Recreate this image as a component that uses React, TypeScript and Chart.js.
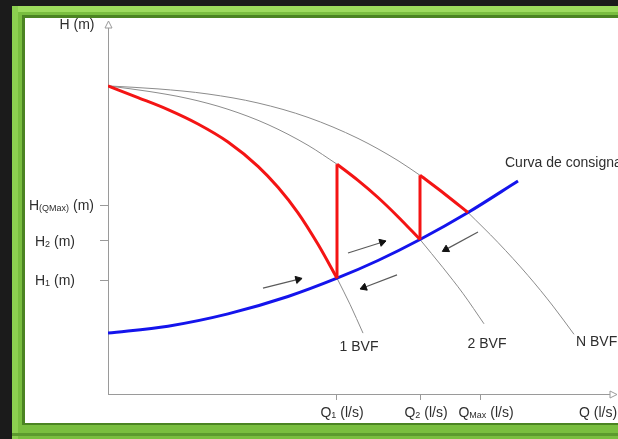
import React, { useEffect, useRef } from "react";
import { Chart, registerables } from "chart.js";

Chart.register(...registerables);

type P = [number, number];

// Q (arbitrary units) vs H (arbitrary units)
const curve1Head: P[] = [[0, 102.7], [7.5, 98.8], [15, 94.8], [22.5, 90], [30, 84], [37.5, 75.9], [42.5, 68.9], [47.5, 60.4], [52.5, 49.9], [57.25, 38.6]];
const curve1Tail: P[] = [[57.25, 38.6], [60.5, 29.9], [63.75, 20.3]];
const curve2Head: P[] = [[0, 102.7], [10, 100.9], [20, 98.5], [30, 94.9], [40, 89.8], [50, 82.9], [57.25, 76.6]];
const curve2Red: P[] = [[57.25, 76.6], [62.5, 71.2], [67.5, 65.5], [72.5, 59.1], [78, 51.5]];
const curve2Tail: P[] = [[78, 51.5], [83.75, 42.1], [88.75, 33.5], [94, 23.4]];
const curveNHead: P[] = [[0, 102.7], [12.5, 101.7], [25, 100], [37.5, 97], [50, 92.2], [62.5, 85.2], [72.5, 77.8], [78, 72.9]];
const curveNRed: P[] = [[78, 72.9], [84.25, 66.6], [90, 60.5]];
const curveNTail: P[] = [[90, 60.5], [97.5, 50.5], [105, 39.5], [111.25, 29.3], [116.5, 19.9]];
const systemCurve: P[] = [[0, 20.3], [15, 22.6], [30, 26.7], [45, 32.5], [57.25, 38.6], [67.5, 44.5], [78, 51.5], [90, 60.5], [102.5, 71]];
const jump1: P[] = [[57.25, 38.6], [57.25, 76.6]];
const jump2: P[] = [[78, 51.5], [78, 72.9]];

const arrows: P[][] = [
  [[38.75, 35.3], [47.5, 38.2]],
  [[60, 47], [68.5, 50.6]],
  [[72.25, 39.7], [64, 35.5]],
  [[92.5, 54], [84.5, 48.2]],
];

const qTicks = [57, 78, 93];
const qTickLabels = ["Q_{1} (l/s)", "Q_{2} (l/s)", "Q_{Max} (l/s)"];
const hTicks = [38, 51.1, 63];
const hTickLabels = ["H_{1} (m)", "H_{2} (m)", "H_{(QMax)} (m)"];
const hTickLabelLeft = [35, 35, 29];

const curveLabels = ["1 BVF", "2 BVF", "N BVF", "Curva de consigna"];
const curveLabelAnchors: P[] = [[62.75, 15.7], [94.75, 16.7], [117, 17.3], [99.25, 77]];
const curveLabelAlign = ["center", "center", "left", "left"];

const FONT = '"Liberation Sans", Arial, sans-serif';
const FS = 14;
const TEXT = "#2e2e2e";
const AXIS = "#9a9a9a";
const RED = "#f41414";
const BLUE = "#1414ec";
const GRAY = "#8c8c8c";

function drawRich(ctx: CanvasRenderingContext2D, text: string, x: number, y: number, size: number, align: string) {
  const parts: { t: string; sub: boolean }[] = [];
  const re = /_\{([^}]*)\}/g;
  let last = 0;
  let m: RegExpExecArray | null;
  while ((m = re.exec(text))) {
    if (m.index > last) parts.push({ t: text.slice(last, m.index), sub: false });
    parts.push({ t: m[1], sub: true });
    last = re.lastIndex;
  }
  if (last < text.length) parts.push({ t: text.slice(last), sub: false });
  const subSize = Math.round(size * 0.64);
  const widths = parts.map((p) => {
    ctx.font = `${p.sub ? subSize : size}px ${FONT}`;
    return ctx.measureText(p.t).width;
  });
  const total = widths.reduce((a, b) => a + b, 0);
  let cx = align === "center" ? x - total / 2 : align === "right" ? x - total : x;
  ctx.textBaseline = "middle";
  ctx.textAlign = "left";
  ctx.fillStyle = TEXT;
  parts.forEach((p, i) => {
    ctx.font = `${p.sub ? subSize : size}px ${FONT}`;
    ctx.fillText(p.t, cx, y + (p.sub ? size * 0.18 : 0));
    cx += widths[i];
  });
}

const framePlugin = {
  id: "frame",
  beforeDraw(chart: any) {
    const { ctx, width, height } = chart;
    ctx.save();
    ctx.fillStyle = "#1b1b1b";
    ctx.fillRect(0, 0, width, height);
    ctx.fillStyle = "#79be3f";
    ctx.fillRect(12, 6, width - 12, height - 6);
    ctx.fillStyle = "#9ddc5e";
    ctx.fillRect(12, 6, width - 12, 6);
    ctx.fillStyle = "#8ccf50";
    ctx.fillRect(12, 6, 6, height - 6);
    ctx.fillStyle = "#4b8422";
    ctx.fillRect(22, 15, width - 22, 410);
    ctx.fillStyle = "#ffffff";
    ctx.fillRect(25, 18, width - 25, 405);
    ctx.fillStyle = "#5c9a2e";
    ctx.fillRect(12, 433, width - 12, 3);
    ctx.restore();
  },
};

const labelPlugin = {
  id: "labels",
  afterDraw(chart: any) {
    const { ctx, chartArea } = chart;
    const xs = chart.scales.x;
    const ys = chart.scales.y;
    ctx.save();
    ctx.strokeStyle = AXIS;
    ctx.fillStyle = "#ffffff";
    ctx.lineWidth = 1;
    const lx = Math.round(chartArea.left) + 0.5;
    ctx.beginPath();
    ctx.moveTo(lx, chartArea.top - 7);
    ctx.lineTo(lx - 3.5, chartArea.top);
    ctx.lineTo(lx + 3.5, chartArea.top);
    ctx.closePath();
    ctx.fill();
    ctx.stroke();
    const by = Math.round(chartArea.bottom) + 0.5;
    ctx.beginPath();
    ctx.moveTo(chartArea.right + 7, by);
    ctx.lineTo(chartArea.right, by - 3.5);
    ctx.lineTo(chartArea.right, by + 3.5);
    ctx.closePath();
    ctx.fill();
    ctx.stroke();

    qTicks.forEach((v, i) => drawRich(ctx, qTickLabels[i], xs.getPixelForValue(v) + 6, 413, FS, "center"));
    hTicks.forEach((v, i) => drawRich(ctx, hTickLabels[i], hTickLabelLeft[i], ys.getPixelForValue(v) + 1, FS, "left"));
    drawRich(ctx, "H (m)", 77, 25, FS, "center");
    drawRich(ctx, "Q (l/s)", 598, 413, FS, "center");
    curveLabels.forEach((t, i) => {
      const [x, y] = curveLabelAnchors[i];
      drawRich(ctx, t, xs.getPixelForValue(x), ys.getPixelForValue(y), FS, curveLabelAlign[i]);
    });
    ctx.restore();
  },
};

function line(data: P[], color: string, width: number, smooth = true) {
  return {
    data: data.map(([x, y]) => ({ x, y })),
    borderColor: color,
    borderWidth: width,
    pointRadius: 0,
    fill: false,
    tension: smooth ? 0.4 : 0,
    cubicInterpolationMode: smooth ? "monotone" : "default",
    borderJoinStyle: "round",
    borderCapStyle: "butt",
  };
}

function arrow(seg: P[]) {
  return {
    data: seg.map(([x, y]) => ({ x, y })),
    borderColor: "#5a5a5a",
    borderWidth: 1.2,
    tension: 0,
    fill: false,
    pointStyle: "triangle",
    pointRadius: [0, 4.2],
    pointBackgroundColor: "#111111",
    pointBorderColor: "#111111",
    pointBorderWidth: 1,
    pointRotation: (c: any) => {
      const ch = c.chart;
      const xs = ch.scales.x;
      const ys = ch.scales.y;
      if (!xs || !ys) return 0;
      const dx = xs.getPixelForValue(seg[1][0]) - xs.getPixelForValue(seg[0][0]);
      const dy = ys.getPixelForValue(seg[1][1]) - ys.getPixelForValue(seg[0][1]);
      return (Math.atan2(dx, -dy) * 180) / Math.PI;
    },
  };
}

export default function App() {
  const ref = useRef<HTMLCanvasElement | null>(null);
  useEffect(() => {
    document.body.style.margin = "0";
    document.body.style.background = "#1b1b1b";
    const canvas = ref.current!;
    const chart = new Chart(canvas, {
      type: "line",
      data: {
        datasets: [
          line(jump1, RED, 3, false),
          line(jump2, RED, 3, false),
          line(curve1Head, RED, 3),
          line(curve2Red, RED, 3),
          line(curveNRed, RED, 3),
          line(systemCurve, BLUE, 3),
          line(curve1Tail, GRAY, 1),
          line(curve2Head, GRAY, 1),
          line(curve2Tail, GRAY, 1),
          line(curveNHead, GRAY, 1),
          line(curveNTail, GRAY, 1),
          ...arrows.map(arrow),
        ] as any,
      },
      options: {
        animation: false,
        responsive: false,
        events: [],
        devicePixelRatio: 1,
        layout: { padding: { left: 0, top: 28, right: 8, bottom: 0 } },
        plugins: { legend: { display: false }, tooltip: { enabled: false } },
        scales: {
          x: {
            type: "linear",
            min: 0,
            max: 125.5,
            afterBuildTicks: (s: any) => {
              s.ticks = qTicks.map((v) => ({ value: v }));
            },
            afterFit: (s: any) => {
              s.height = 45;
            },
            ticks: { display: false },
            grid: { drawOnChartArea: false, drawTicks: true, tickLength: 6, color: AXIS, lineWidth: 1 },
            border: { display: true, color: AXIS, width: 1 },
          },
          y: {
            type: "linear",
            min: 0,
            max: 122,
            afterBuildTicks: (s: any) => {
              s.ticks = hTicks.map((v) => ({ value: v }));
            },
            afterFit: (s: any) => {
              s.width = 108;
            },
            ticks: { display: false },
            grid: { drawOnChartArea: false, drawTicks: true, tickLength: 8, color: AXIS, lineWidth: 1 },
            border: { display: true, color: AXIS, width: 1 },
          },
        },
      } as any,
      plugins: [framePlugin, labelPlugin],
    });
    return () => chart.destroy();
  }, []);
  return (
    <div style={{ position: "fixed", left: 0, top: 0, width: 618, height: 439 }}>
      <canvas ref={ref} width={618} height={439} />
    </div>
  );
}
